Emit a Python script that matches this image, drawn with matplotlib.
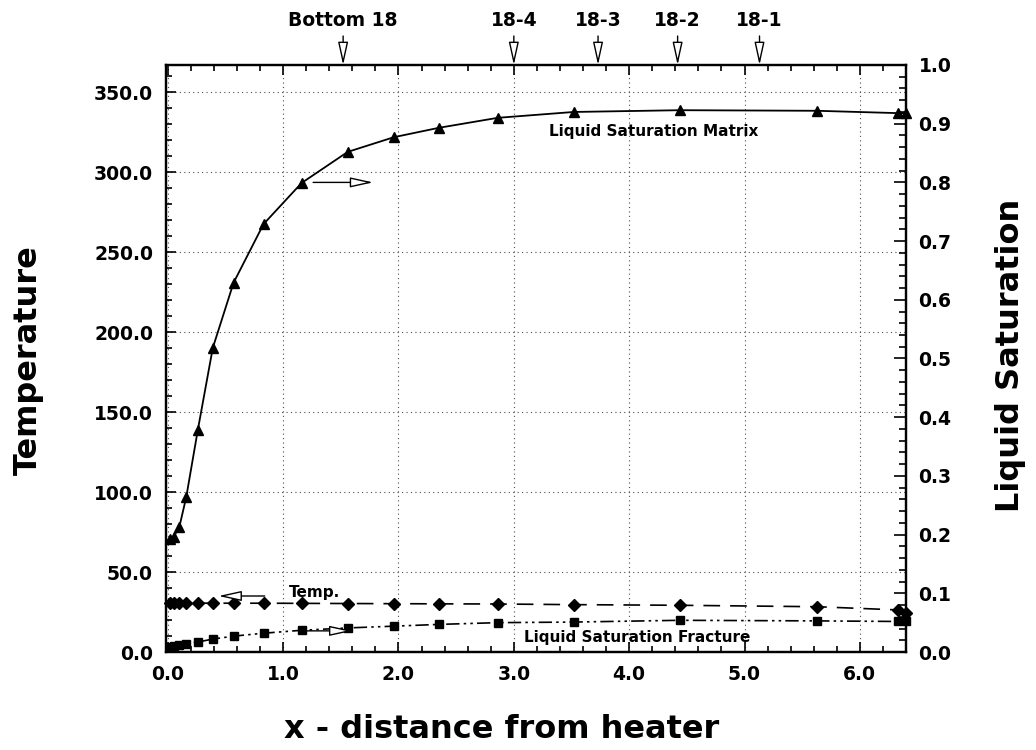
import matplotlib
matplotlib.use('Agg')
import matplotlib.pyplot as plt
from matplotlib.ticker import MultipleLocator, FormatStrFormatter

plt.rcParams['font.family'] = 'DejaVu Sans'
plt.rcParams['font.weight'] = 'bold'

# distance from heater (shared by all three series)
x_dist = [0.02, 0.05, 0.10, 0.16, 0.26, 0.39, 0.57, 0.83, 1.16, 1.56,
          1.96, 2.35, 2.86, 3.52, 4.44, 5.63, 6.33, 6.40]
# liquid saturation of matrix (right axis)
sat_matrix = [0.193, 0.196, 0.213, 0.264, 0.378, 0.518, 0.629, 0.729, 0.799,
              0.852, 0.877, 0.893, 0.910, 0.920, 0.923, 0.922, 0.918, 0.918]
# temperature (left axis)
temp = [30.6, 30.6, 30.6, 30.6, 30.6, 30.5, 30.5, 30.5, 30.4, 30.3,
        30.2, 30.1, 30.0, 29.6, 29.2, 28.3, 26.3, 24.5]
# liquid saturation of fracture (right axis)
sat_fracture = [0.008, 0.010, 0.012, 0.014, 0.017, 0.022, 0.027, 0.032, 0.037,
                0.041, 0.044, 0.047, 0.050, 0.051, 0.054, 0.053, 0.052, 0.052]

# probe locations on top
probe_x = [1.52, 3.00, 3.73, 4.42, 5.13]
probe_names = ['Bottom 18', '18-4', '18-3', '18-2', '18-1']

W, H = 1036, 750
fig = plt.figure(figsize=(W / 100, H / 100), dpi=100)
ax = fig.add_axes([165.5 / W, 1 - 652 / H, (906 - 165.5) / W, (652 - 65) / H])
ax2 = ax.twinx()

# curves
ax.plot(x_dist, temp, color='black', lw=1.2, linestyle=(0, (10, 6)),
        marker='D', ms=6, clip_on=False, zorder=3)
ax2.plot(x_dist, sat_matrix, color='black', lw=1.3, linestyle='-',
         marker='^', ms=7, clip_on=False, zorder=3)
ax2.plot(x_dist, sat_fracture, color='black', lw=1.2,
         linestyle=(0, (8, 2.5, 1.5, 2.5, 1.5, 2.5)),
         marker='s', ms=6, clip_on=False, zorder=3)

# axes ranges and ticks
ax.set_xlim(-0.02, 6.40)
ax.set_ylim(0, 366.9)
ax2.set_ylim(0, 1.0)

ax.xaxis.set_major_locator(MultipleLocator(1.0))
ax.xaxis.set_minor_locator(MultipleLocator(0.2))
ax.yaxis.set_major_locator(MultipleLocator(50))
ax.yaxis.set_minor_locator(MultipleLocator(10))
ax2.yaxis.set_major_locator(MultipleLocator(0.1))
ax2.yaxis.set_minor_locator(MultipleLocator(0.02))
ax.xaxis.set_major_formatter(FormatStrFormatter('%.1f'))
ax.yaxis.set_major_formatter(FormatStrFormatter('%.1f'))
ax2.yaxis.set_major_formatter(FormatStrFormatter('%.1f'))

ax.tick_params(which='both', direction='in', top=True, right=False,
               labelsize=13.5, width=1.2)
ax.tick_params(which='major', length=7)
ax.tick_params(which='minor', length=4)
ax.tick_params(axis='y', pad=9)
ax.tick_params(axis='x', pad=9)
ax2.tick_params(which='both', direction='in', labelsize=13.5, width=1.2, pad=9)
ax2.tick_params(which='major', length=9)
ax2.tick_params(which='minor', length=5)

for a in (ax, ax2):
    for s in a.spines.values():
        s.set_linewidth(1.6)

ax.grid(True, which='major', color='0.3', lw=0.8, linestyle=(0, (1, 3)))

# axis titles
fig.text(502 / W, 1 - 730 / H, 'x - distance from heater', ha='center',
         va='center', fontsize=23, fontweight='bold')
fig.text(28 / W, 1 - 360 / H, 'Temperature', ha='center', va='center',
         rotation=90, fontsize=23, fontweight='bold')
fig.text(1011 / W, 1 - 355 / H, 'Liquid Saturation', ha='center', va='center',
         rotation=90, fontsize=23, fontweight='bold')

# probe markers above the plot
open_head = dict(arrowstyle='-|>,head_length=1.0,head_width=0.22',
                 mutation_scale=14, fc='white', ec='black', lw=1,
                 shrinkA=0, shrinkB=0)
for px, name in zip(probe_x, probe_names):
    ax.annotate('', xy=(px, 1.0), xycoords=('data', 'axes fraction'),
                xytext=(px, 1 + 29 / 587), textcoords=('data', 'axes fraction'),
                arrowprops=open_head, annotation_clip=False)
    ax.text(px, 1 + 45 / 587, name, transform=ax.get_xaxis_transform(),
            ha='center', va='center', fontsize=13.5, fontweight='bold')

# curve labels with arrows pointing to their axis
ax2.text(4.21, 0.886, 'Liquid Saturation Matrix', ha='center', va='center',
         fontsize=11, fontweight='bold')
ax2.annotate('', xy=(1.78, 0.80), xytext=(1.26, 0.80), arrowprops=open_head)
ax.text(1.27, 37, 'Temp.', ha='center', va='center', fontsize=11,
        fontweight='bold')
ax.annotate('', xy=(0.44, 35), xytext=(0.84, 35), arrowprops=open_head)
ax2.text(4.07, 0.025, 'Liquid Saturation Fracture', ha='center', va='center',
         fontsize=11, fontweight='bold')
ax2.annotate('', xy=(1.60, 0.036), xytext=(1.15, 0.036), arrowprops=open_head)

fig.savefig('out.png', dpi=100)
